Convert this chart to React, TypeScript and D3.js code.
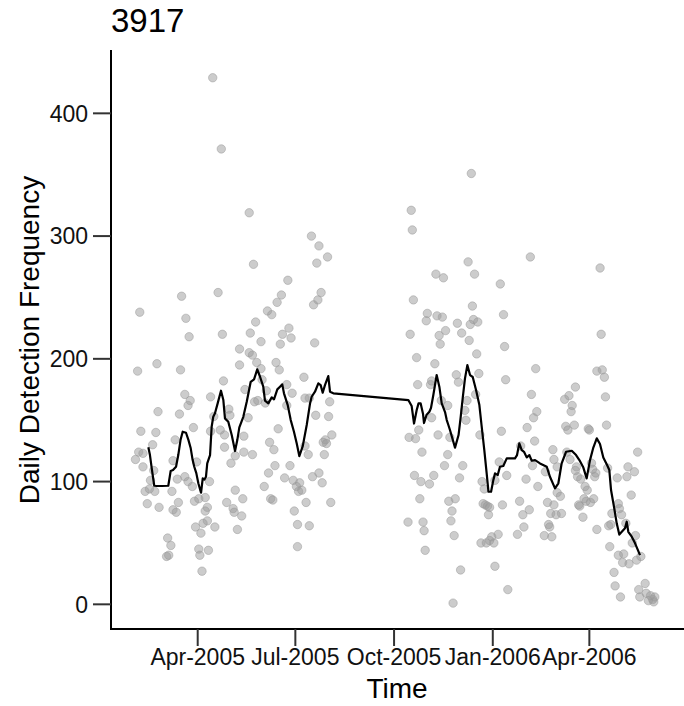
import React from "react";
import * as d3 from "d3";

// ---- data (day numbers counted from 2005-01-01) ----
const BASE_UTC = Date.UTC(2005, 0, 1);
const DAY_MS = 86400000;

const chartTitle = "3917";
const xAxisTitle = "Time";
const yAxisTitle = "Daily Detection Frequency";

const pointDays = [
  32, 34, 35, 36, 37, 39, 39, 41, 43, 45,
  46, 48, 49, 50, 51, 52, 53, 54, 61, 63,
  62, 65, 66, 67, 67, 69, 70, 71, 72, 73,
  74, 75, 78, 78, 79, 81, 81, 82, 83, 85,
  86, 87, 88, 89, 91, 91, 92, 93, 94, 95,
  97, 97, 99, 99, 100, 101, 102, 102, 104, 105,
  106, 109, 111, 112, 113, 114, 115, 115, 117, 119,
  120, 121, 123, 124, 125, 125, 127, 129, 129, 131,
  132, 133, 133, 134, 137, 138, 138, 139, 141, 141,
  142, 143, 144, 145, 146, 149, 149, 150, 152, 153,
  154, 155, 156, 157, 158, 160, 159, 161, 162, 163,
  164, 165, 166, 167, 169, 168, 171, 173, 173, 174,
  175, 176, 177, 178, 179, 180, 182, 183, 183, 184,
  185, 187, 189, 190, 190, 191, 193, 194, 194, 196,
  197, 198, 199, 200, 201, 202, 203, 203, 205, 206,
  207, 208, 209, 210, 211, 212, 213, 214, 215,
  286, 287, 288, 289, 290, 291, 292, 293, 294, 295,
  296, 297, 298, 299, 300, 301, 302, 303, 304, 306,
  307, 308, 308, 310, 311, 312, 313, 314, 315, 316,
  317, 318, 319, 320, 321, 323, 323, 324, 325, 326,
  327, 328, 329, 330, 331, 332, 333, 334, 335, 336,
  337, 339, 340, 341, 342, 343, 344, 345, 346, 347,
  348, 349, 350, 351, 352, 353, 354, 355, 356, 357,
  358, 360, 362, 359, 361, 362, 364, 366, 367, 367,
  370, 371, 372, 373, 374, 375, 376, 377, 378, 379,
  388, 390, 391, 393, 394, 396, 397, 399, 400, 401,
  402, 403, 404, 405, 406, 407, 414, 413, 416, 417,
  418, 419, 420, 421, 422, 425, 422, 424, 425, 428,
  429, 432, 433, 434, 437, 436, 439, 438, 435, 441,
  442, 443, 444, 442, 447, 445, 446, 449, 450, 451,
  453, 452, 454, 455, 457, 459, 456, 458, 461, 460,
  462, 462, 465, 466, 467, 469, 470, 471, 472, 473,
  475, 474, 476, 478, 479, 481, 482, 483, 482, 485,
  486, 484, 487, 489, 490, 491, 492, 494, 495, 497,
  498, 499, 500, 501, 502, 503, 507, 508, 510, 512,
  514, 515, 516,
];

const pointCounts = [
  118, 190, 124, 238, 141, 123, 112, 92, 82, 94,
  101, 130, 109, 92, 140, 196, 157, 79, 39, 40,
  54, 48, 92, 117, 77, 134, 75, 102, 83, 155,
  191, 251, 104, 171, 233, 162, 100, 218, 166, 96,
  144, 84, 63, 116, 45, 86, 40, 58, 27, 66,
  87, 76, 79, 68, 44, 100, 169, 141, 429, 153,
  63, 254, 142, 371, 220, 182, 138, 128, 83, 159,
  154, 115, 78, 75, 121, 93, 61, 195, 208, 72,
  86, 137, 124, 175, 152, 205, 319, 221, 203, 122,
  277, 165, 230, 197, 166, 192, 214, 183, 96, 164,
  174, 239, 107, 132, 86, 85, 236, 126, 113, 197,
  246, 143, 191, 212, 220, 252, 103, 179, 162, 264,
  225, 113, 217, 172, 101, 76, 96, 65, 47, 92,
  99, 93, 185, 168, 129, 83, 122, 64, 168, 300,
  104, 244, 213, 154, 278, 248, 292, 107, 254, 99,
  132, 122, 134, 131, 283, 153, 165, 83, 138,
  67, 136, 220, 321, 305, 248, 105, 135, 201, 179,
  142, 86, 100, 124, 67, 60, 44, 231, 237, 98,
  179, 182, 152, 105, 196, 269, 235, 138, 219, 212,
  166, 234, 266, 113, 223, 162, 122, 84, 136, 68,
  76, 1, 56, 86, 187, 229, 181, 103, 28, 221,
  113, 158, 150, 166, 279, 215, 228, 351, 243, 232,
  269, 171, 204, 230, 188, 138, 50, 100, 82, 94,
  81, 80, 79, 50, 73, 52, 55, 50, 101, 31,
  57, 116, 261, 141, 81, 236, 210, 183, 105, 12,
  57, 84, 129, 73, 63, 102, 144, 77, 283, 171,
  113, 152, 133, 192, 157, 96, 108, 56, 83, 65,
  63, 74, 55, 126, 118, 112, 81, 73, 91, 88,
  74, 167, 145, 124, 118, 170, 162, 157, 142, 146,
  177, 112, 104, 109, 102, 81, 80, 71, 86, 96,
  93, 84, 143, 142, 115, 86, 83, 110, 107, 104,
  61, 190, 274, 220, 191, 185, 169, 146, 111, 64,
  65, 47, 74, 26, 15, 103, 82, 78, 40, 73,
  34, 6, 41, 66, 104, 112, 33, 89, 50, 108,
  56, 36, 124, 12, 6, 39, 17, 9, 3, 7,
  4, 2, 6,
];

const meanDays = [
  44.0, 45.5, 47.4, 49.5, 51.8, 56.7, 62.6, 64.8, 67.0, 69.8,
  71.9, 74.0, 76.0, 79.1, 81.4, 83.5, 85.3, 86.8, 88.7, 90.6,
  93.1, 94.7, 96.3, 97.7, 98.9, 101.5, 103.0, 104.5, 106.1, 108.6,
  111.7, 113.9, 115.4, 118.5, 121.7, 124.8, 126.9, 128.8, 132.5, 135.7,
  139.4, 142.5, 145.5, 148.1, 151.1, 152.7, 155.8, 159.0, 161.1, 164.2,
  166.7, 168.8, 170.4, 173.9, 176.7, 179.7, 182.3, 184.7, 187.9, 191.6,
  194.7, 196.2, 199.3, 202.4, 204.6, 206.5, 208.6, 211.7, 213.3, 216.4,
  286.3, 289.4, 291.6, 294.1, 295.8, 297.8, 300.0, 300.9, 303.2, 305.9,
  307.4, 309.6, 312.7, 315.2, 317.4, 320.5, 322.1, 323.6, 325.1, 329.8,
  333.1, 335.1, 337.0, 339.1, 341.3, 343.8, 346.3, 349.4, 352.5, 354.5,
  357.1, 359.3, 361.0, 363.4, 365.5, 367.1, 369.6, 371.7, 374.8, 378.0,
  381.1, 385.7, 387.6, 389.7, 392.0, 394.1, 396.6, 399.1, 401.3, 404.4,
  409.0, 415.3, 418.3, 423.0, 426.1, 429.2, 433.3, 438.6, 442.6, 445.7,
  449.4, 452.5, 455.6, 458.7, 461.9, 464.9, 468.0, 471.5, 473.6, 475.2,
  478.0, 480.5, 482.9, 486.7, 488.2, 489.8, 491.3, 494.5, 497.6, 502.2,
];

const meanValues = [
  127.9, 121.6, 109.4, 96.6, 96.4, 96.4, 96.6, 108.6, 109.4, 112.1,
  121.6, 133.8, 140.6, 139.8, 133.8, 127.1, 117.5, 112.1, 106.9, 98.6,
  90.9, 102.6, 101.7, 103.9, 114.9, 121.6, 144.7, 152.8, 155.6, 163.7,
  174.0, 166.4, 151.5, 148.7, 137.9, 124.9, 133.8, 144.2, 152.8, 165.0,
  181.3, 183.3, 191.4, 185.4, 177.3, 165.9, 163.7, 168.6, 167.0, 175.1,
  177.3, 179.2, 171.9, 162.3, 150.1, 140.6, 131.1, 120.8, 128.9, 146.1,
  163.7, 169.1, 173.2, 180.0, 178.6, 172.4, 178.6, 186.0, 173.2, 171.9,
  166.4, 161.5, 147.3, 158.3, 163.7, 163.7, 155.0, 147.7, 154.2, 156.9,
  159.9, 170.5, 186.8, 177.3, 163.7, 156.6, 150.1, 146.1, 142.0, 127.7,
  137.9, 152.8, 168.1, 184.1, 194.9, 186.8, 185.2, 174.6, 162.3, 146.1,
  125.7, 106.7, 91.7, 91.7, 101.2, 106.7, 105.3, 112.1, 112.7, 118.9,
  118.9, 118.9, 121.6, 131.1, 125.7, 124.3, 119.7, 121.6, 117.0, 117.5,
  114.8, 112.1, 103.9, 94.5, 98.6, 114.9, 124.3, 125.1, 121.6, 117.5,
  111.4, 102.6, 117.5, 127.7, 135.2, 130.6, 119.6, 113.5, 109.4, 93.1,
  79.2, 66.0, 56.8, 60.5, 61.9, 67.3, 59.1, 55.1, 49.7, 40.1,
];

const xTickDates = ["2005-04-01", "2005-07-01", "2005-10-01", "2006-01-01", "2006-04-01"];
const yTickValues = [0, 100, 200, 300, 400];

// ---- layout ----
const W = 684;
const H = 706;
const PANEL = { left: 111, right: 684, top: 50, bottom: 629 };
const X_DOMAIN_DAYS = [9.2, 543.2];
const Y_DOMAIN = [-20.1, 451.6];
const FONT = "'Liberation Sans', Arial, Helvetica, sans-serif";
const TICK_FONT = 23;

const toDate = (day: number) => new Date(BASE_UTC + day * DAY_MS);

export default function App() {
  const x = d3
    .scaleUtc()
    .domain([toDate(X_DOMAIN_DAYS[0]), toDate(X_DOMAIN_DAYS[1])])
    .range([PANEL.left, PANEL.right]);
  const y = d3.scaleLinear().domain(Y_DOMAIN).range([PANEL.bottom, PANEL.top]);
  const fmt = d3.utcFormat("%b-%Y");

  const points = pointDays.map((d, i) => ({ date: toDate(d), v: pointCounts[i] }));
  const mean = meanDays.map((d, i) => ({ date: toDate(d), v: meanValues[i] }));
  const linePath = d3
    .line<{ date: Date; v: number }>()
    .x((p) => x(p.date))
    .y((p) => y(p.v))(mean);

  const xTicks = xTickDates.map((s) => new Date(s + "T00:00:00Z"));

  return (
    <svg
      width={W}
      height={H}
      style={{ position: "absolute", left: 0, top: 0, display: "block", background: "#fff" }}
      fontFamily={FONT}
    >
      <rect x={0} y={0} width={W} height={H} fill="#ffffff" />
      <text x={111} y={32} fontSize={33} fill="#000">
        {chartTitle}
      </text>

      {/* points */}
      <g>
        {points.map((p, i) => (
          <circle
            key={i}
            cx={x(p.date)}
            cy={y(p.v)}
            r={4.2}
            fill="#999999"
            fillOpacity={0.5}
            stroke="#999999"
            strokeOpacity={0.5}
            strokeWidth={1}
          />
        ))}
      </g>

      {/* rolling mean */}
      <path d={linePath || ""} fill="none" stroke="#000" strokeWidth={2.2} strokeLinejoin="round" />

      {/* axes */}
      <line x1={PANEL.left} x2={PANEL.left} y1={PANEL.top} y2={PANEL.bottom + 1} stroke="#000" strokeWidth={2} />
      <line x1={PANEL.left - 1} x2={PANEL.right} y1={PANEL.bottom} y2={PANEL.bottom} stroke="#000" strokeWidth={2} />

      {yTickValues.map((t) => (
        <g key={"y" + t}>
          <line x1={93} x2={PANEL.left} y1={y(t)} y2={y(t)} stroke="#333" strokeWidth={2} />
          <text x={88} y={y(t) + 8.3} fontSize={TICK_FONT} textAnchor="end" fill="#111">
            {t}
          </text>
        </g>
      ))}

      {xTicks.map((t, i) => (
        <g key={"x" + i}>
          <line x1={x(t)} x2={x(t)} y1={PANEL.bottom} y2={646} stroke="#333" strokeWidth={2} />
          <text x={x(t)} y={664.5} fontSize={TICK_FONT} textAnchor="middle" fill="#111">
            {fmt(t)}
          </text>
        </g>
      ))}

      <text x={397} y={698} fontSize={28} textAnchor="middle" fill="#000">
        {xAxisTitle}
      </text>
      <text
        transform={`translate(39, 340) rotate(-90)`}
        fontSize={28}
        textAnchor="middle"
        fill="#000"
      >
        {yAxisTitle}
      </text>
    </svg>
  );
}
